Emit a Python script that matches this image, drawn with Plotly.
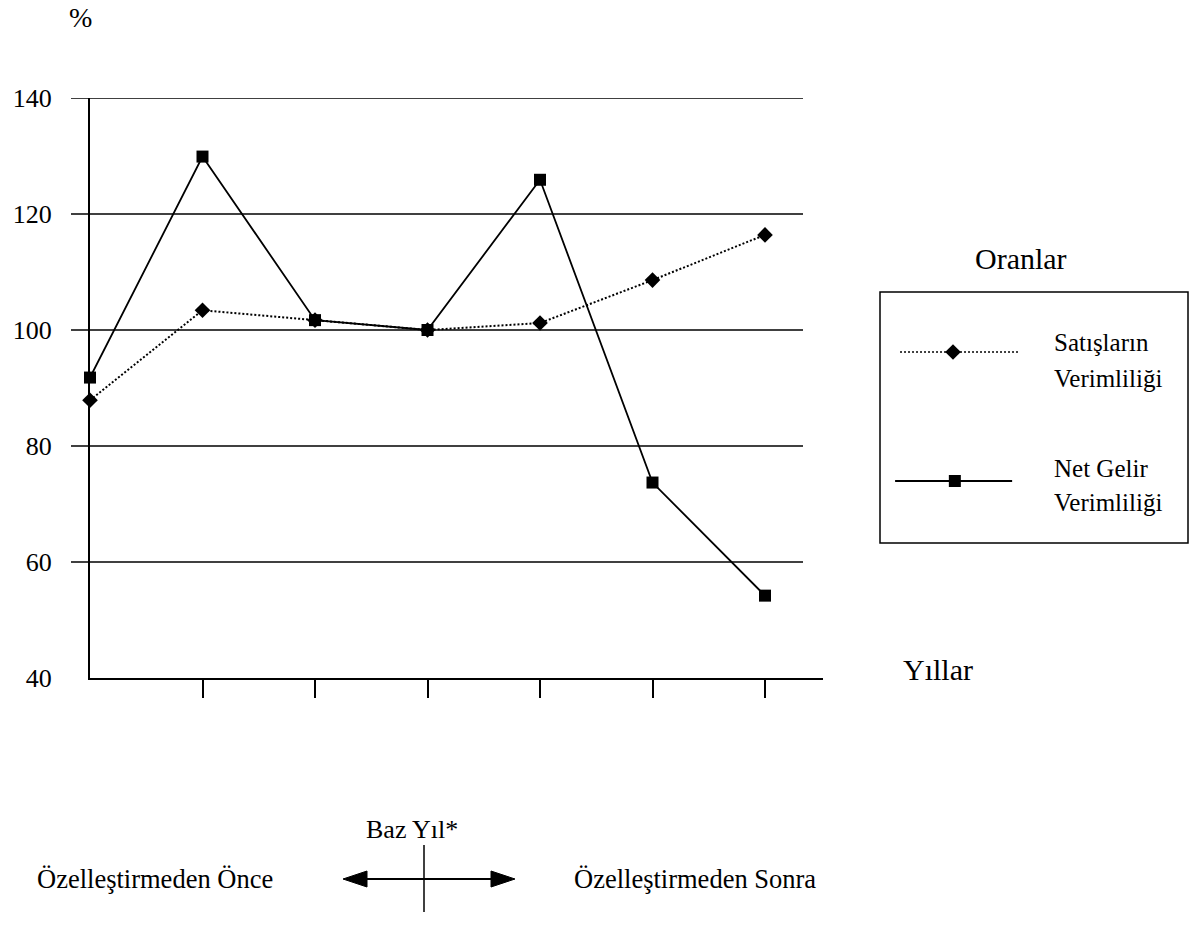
import plotly.graph_objects as go

# --- data -------------------------------------------------------------
years_idx = [0, 1, 2, 3, 4, 5, 6]            # year positions, index 3 = base year
satis_verim = [87.9, 103.4, 101.7, 100.0, 101.2, 108.6, 116.4]
net_gelir_verim = [91.8, 129.9, 101.7, 100.0, 125.9, 73.7, 54.2]
y_ticks = [40, 60, 80, 100, 120, 140]
x_ticks = [1, 2, 3, 4, 5, 6]

FONT = "Liberation Serif"
W, H = 1197, 934
ML, MR, MT, MB = 90, 9, 98, 256
PW, PH = W - ML - MR, H - MT - MB


def px(x):
    """pixel x -> paper x"""
    return (x - ML) / PW


def py(y):
    """pixel y -> paper y"""
    return (H - MB - y) / PH


x_dom_end = px(823)

fig = go.Figure()

fig.add_trace(go.Scatter(
    x=years_idx, y=satis_verim, mode="lines+markers",
    line=dict(color="black", width=2, dash="2px,2px"),
    marker=dict(symbol="diamond", size=12, color="black"),
    cliponaxis=False, showlegend=False, name="Satışların Verimliliği"))

fig.add_trace(go.Scatter(
    x=years_idx, y=net_gelir_verim, mode="lines+markers",
    line=dict(color="black", width=1.8),
    marker=dict(symbol="square", size=12, color="black"),
    cliponaxis=False, showlegend=False, name="Net Gelir Verimliliği"))

# legend samples drawn on a small overlay axis
fig.add_trace(go.Scatter(x=[0.065, 0.448], y=[0.761, 0.761], mode="lines",
                         line=dict(color="black", width=1.5, dash="2px,2px"),
                         xaxis="x2", yaxis="y2", showlegend=False, hoverinfo="skip"))
fig.add_trace(go.Scatter(x=[0.237], y=[0.761], mode="markers",
                         marker=dict(symbol="diamond", size=12, color="black"),
                         xaxis="x2", yaxis="y2", showlegend=False, hoverinfo="skip"))
fig.add_trace(go.Scatter(x=[0.049, 0.429], y=[0.247, 0.247], mode="lines",
                         line=dict(color="black", width=1.8),
                         xaxis="x2", yaxis="y2", showlegend=False, hoverinfo="skip"))
fig.add_trace(go.Scatter(x=[0.243], y=[0.247], mode="markers",
                         marker=dict(symbol="square", size=12, color="black"),
                         xaxis="x2", yaxis="y2", showlegend=False, hoverinfo="skip"))

shapes = []
# horizontal grid lines, running a little past the y axis on the left
for v in y_ticks[1:]:
    shapes.append(dict(type="line", xref="x domain", yref="y",
                       x0=(71 - ML) / (823 - ML), x1=(803 - ML) / (823 - ML),
                       y0=v, y1=v, line=dict(color="black", width=1.5)))
# legend frame
shapes.append(dict(type="rect", xref="x2 domain", yref="y2 domain",
                   x0=0, x1=1, y0=0, y1=1, line=dict(color="black", width=1.5)))
# base year marker and before/after arrow below the chart
shapes.append(dict(type="line", xref="paper", yref="paper",
                   x0=px(424), x1=px(424), y0=py(845), y1=py(912),
                   line=dict(color="black", width=1.5)))
shapes.append(dict(type="line", xref="paper", yref="paper",
                   x0=px(360), x1=px(498), y0=py(879), y1=py(879),
                   line=dict(color="black", width=2)))
shapes.append(dict(type="path", xref="paper", yref="paper",
                   path=f"M {px(343)},{py(879)} L {px(367)},{py(871)} L {px(367)},{py(887)} Z",
                   fillcolor="black", line=dict(color="black", width=1)))
shapes.append(dict(type="path", xref="paper", yref="paper",
                   path=f"M {px(515)},{py(879)} L {px(491)},{py(871)} L {px(491)},{py(887)} Z",
                   fillcolor="black", line=dict(color="black", width=1)))

ann = []


def text(s, x, y, size, xanchor="center"):
    ann.append(dict(text=s, x=px(x), y=py(y), xref="paper", yref="paper",
                    showarrow=False, xanchor=xanchor, yanchor="middle",
                    font=dict(family=FONT, size=size, color="black")))


text("%", 80, 17, 28)
text("Oranlar", 1021, 258, 30)
text("Yıllar", 938, 669, 30)
text("Satışların", 1052, 342, 25, "left")
text("Verimliliği", 1052, 378, 25, "left")
text("Net Gelir", 1052, 468, 25, "left")
text("Verimliliği", 1052, 502, 25, "left")
text("Baz Yıl*", 412, 829, 26)
text("Özelleştirmeden Önce", 35, 879, 26.5, "left")
text("Özelleştirmeden Sonra", 572, 879, 26.5, "left")

fig.update_layout(
    width=W, height=H,
    margin=dict(l=ML, r=MR, t=MT, b=MB),
    paper_bgcolor="white", plot_bgcolor="white",
    font=dict(family=FONT, color="black"),
    showlegend=False,
    xaxis=dict(domain=[0, x_dom_end], range=[0, (823 - ML) / 112.5],
               tickvals=x_ticks, showticklabels=False,
               ticks="outside", ticklen=18, tickwidth=1.5, tickcolor="black",
               showline=True, linewidth=2, linecolor="black",
               showgrid=False, zeroline=False, fixedrange=True),
    yaxis=dict(domain=[0, 1], range=[40, 140], tickvals=y_ticks,
               ticks="", ticklabelstandoff=31,
               tickfont=dict(family=FONT, size=26, color="black"),
               showline=True, linewidth=2, linecolor="black",
               showgrid=False, zeroline=False, fixedrange=True),
    xaxis2=dict(domain=[px(880), px(1188)], range=[0, 1], anchor="y2",
                visible=False, fixedrange=True),
    yaxis2=dict(domain=[py(543), py(292)], range=[0, 1], anchor="x2",
                visible=False, fixedrange=True),
    shapes=shapes,
    annotations=ann,
)

fig.write_html("out.html")
